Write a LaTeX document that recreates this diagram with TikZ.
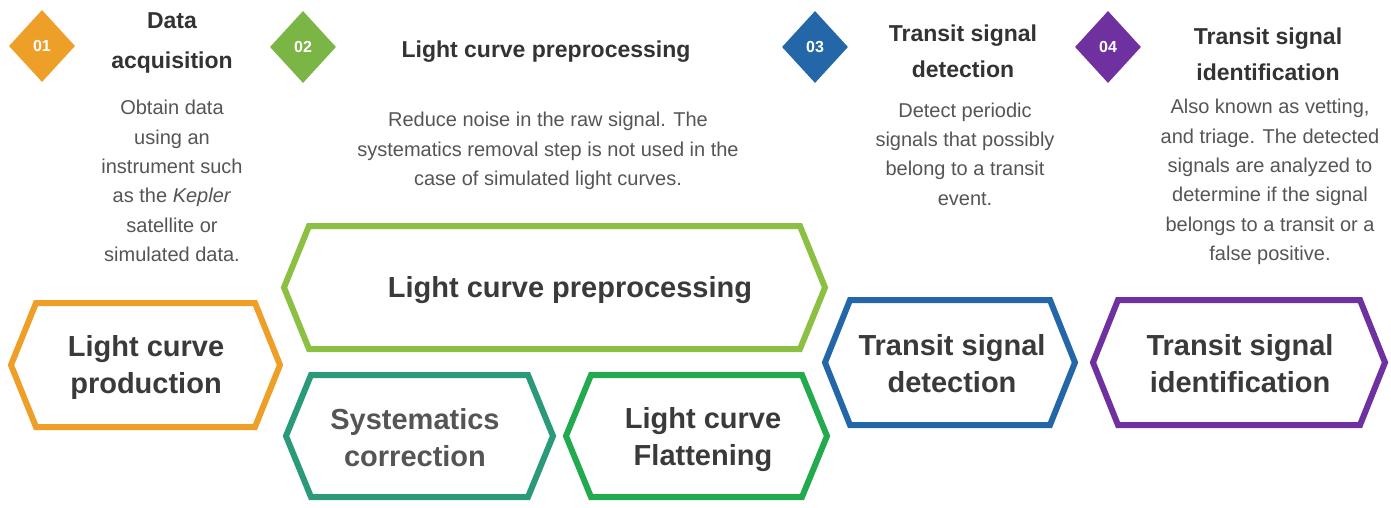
\documentclass[tikz,border=0pt]{standalone}
\usepackage{fontspec}
\setmainfont{Liberation Sans}
\usetikzlibrary{shapes.geometric}

\definecolor{cOrange}{HTML}{EE9F27}
\definecolor{cLime}{HTML}{8CC042}
\definecolor{cLimeBadge}{HTML}{7AB545}
\definecolor{cTeal}{HTML}{2A9A7A}
\definecolor{cGreen}{HTML}{22AA4E}
\definecolor{cBlue}{HTML}{2467A8}
\definecolor{cPurple}{HTML}{7031A0}
\definecolor{titletext}{HTML}{333333}
\definecolor{desctext}{HTML}{555555}
\definecolor{hexttext}{HTML}{3A3A3A}

\tikzset{
  badge/.style={diamond, fill=#1, minimum width=66pt, minimum height=72pt,
    inner sep=0pt, text=white, font=\bfseries\fontsize{16}{16}\selectfont},
  steptitle/.style={align=center, text=titletext, inner sep=0pt,
    font=\bfseries\fontsize{23}{36}\selectfont},
  stepdesc/.style={align=center, text=desctext, inner sep=0pt,
    font=\fontsize{20}{29.3}\selectfont},
  hexlabel/.style={align=center, text=hexttext, inner sep=0pt,
    font=\bfseries\fontsize{29}{37}\selectfont},
  hexline/.style={line width=6pt, line join=miter},
}

% #1 name, #2 cx, #3 cy, #4 half width, #5 half height, #6 colour
\newcommand\hexoutline[6]{%
  \draw[hexline, draw=#6]
    (#2-#4,#3) coordinate (#1-w)
    -- (#2-#4+25,#3-#5) coordinate (#1-nw)
    -- (#2+#4-25,#3-#5) coordinate (#1-ne)
    -- (#2+#4,#3) coordinate (#1-e)
    -- (#2+#4-25,#3+#5) coordinate (#1-se)
    -- (#2-#4+25,#3+#5) coordinate (#1-sw)
    -- cycle;
}

\begin{document}
\begin{tikzpicture}[x=1pt,y=-1pt]
  \useasboundingbox (0,0) rectangle (1391,508);
  \fill[white] (0,0) rectangle (1391,508);

  % numbered badges
  \node[badge=cOrange] (b1) at (42,46) {01};
  \node[badge=cLimeBadge] (b2) at (303,47) {02};
  \node[badge=cBlue] (b3) at (815,47) {03};
  \node[badge=cPurple] (b4) at (1108,47) {04};

  % step titles
  \node[steptitle, font=\bfseries\fontsize{23}{40}\selectfont] (t1) at (172,43) {Data\\acquisition};
  \node[steptitle] (t2) at (546,52) {Light curve preprocessing};
  \node[steptitle] (t3) at (963,51) {Transit signal\\detection};
  \node[steptitle] (t4) at (1268,54) {Transit signal\\identification};

  % step descriptions
  \node[stepdesc] (d1) at (172,181) {Obtain data\\using an\\instrument such\\as the \textit{Kepler}\\satellite or\\simulated data.};
  \node[stepdesc] (d2) at (548,151) {Reduce noise in the raw signal. The\\systematics removal step is not used in the\\case of simulated light curves.};
  \node[stepdesc] (d3) at (965,154) {Detect periodic\\signals that possibly\\belong to a transit\\event.};
  \node[stepdesc] (d4) at (1270,182) {Also known as vetting,\\and triage. The detected\\signals are analyzed to\\determine if the signal\\belongs to a transit or a\\false positive.};

  % pipeline stages
  \hexoutline{hprod}{145.5}{365}{134.5}{62}{cOrange}
  \node[hexlabel] (prod) at (146,367) {Light curve\\production};

  \hexoutline{hpre}{554.5}{287.5}{270.5}{61.5}{cLime}
  \node[hexlabel] (pre) at (570,290) {Light curve preprocessing};

  \hexoutline{hsys}{419.5}{436}{133.5}{61}{cTeal}
  \node[hexlabel, text=desctext] (sys) at (415,438) {Systematics\\correction};

  \hexoutline{hflat}{696.5}{436}{130.5}{61}{cGreen}
  \node[hexlabel] (flat) at (703,440) {Light curve\\Flattening};

  \hexoutline{hdet}{950}{362.5}{125}{62.5}{cBlue}
  \node[hexlabel] (det) at (952,364) {Transit signal\\detection};

  \hexoutline{hid}{1239}{362.5}{146}{62.5}{cPurple}
  \node[hexlabel] (id) at (1240,364) {Transit signal\\identification};
\end{tikzpicture}
\end{document}
